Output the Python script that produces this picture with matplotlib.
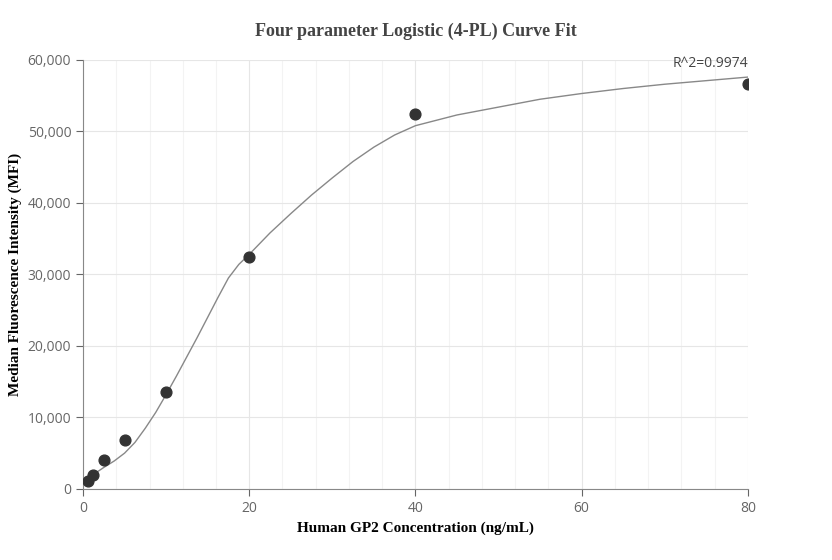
import matplotlib
matplotlib.use("Agg")
import matplotlib.pyplot as plt
from matplotlib.ticker import FuncFormatter, MultipleLocator

conc = [0.625, 1.25, 2.5, 5, 10, 20, 40, 80]
mfi = [1100, 2000, 4100, 6900, 13600, 32500, 52500, 56700]
curve_x = [0.6, 2.5, 3.75, 5, 6.25, 7.5, 8.75, 10, 11.25, 12.5, 13.75, 15, 16.25, 17.5, 18.75, 20,
           22.5, 25, 27.5, 30, 32.5, 35, 37.5, 40, 45, 50, 55, 60, 65, 70, 75, 80]
curve_y = [1500, 3000, 3900, 5000, 6500, 8500, 10700, 13200, 15800, 18500, 21200, 24000, 26800, 29500, 31400, 32800,
           35800, 38500, 41100, 43500, 45800, 47800, 49500, 50800, 52300, 53400, 54500, 55300, 56000, 56600, 57100, 57600]
r2_text = "R^2=0.9974"

fig = plt.figure(figsize=(8.32, 5.6), dpi=100)
ax = fig.add_axes([0.0998, 0.127, 0.799, 0.766])
ax.plot(curve_x, curve_y, color="#888888", lw=1)
ax.scatter(conc, mfi, s=60, color="#333333", zorder=3)
ax.set_xlim(0, 80)
ax.set_ylim(0, 60000)
ax.xaxis.set_major_locator(MultipleLocator(20))
ax.xaxis.set_minor_locator(MultipleLocator(4))
ax.yaxis.set_major_locator(MultipleLocator(10000))
ax.yaxis.set_major_formatter(FuncFormatter(lambda v, p: f"{int(v):,}"))
ax.grid(True, which="major", color="#e6e6e6", lw=0.8)
ax.grid(True, which="minor", axis="x", color="#f3f3f3", lw=0.8)
ax.set_axisbelow(True)
for s in ["top", "right"]:
    ax.spines[s].set_visible(False)
for s in ["left", "bottom"]:
    ax.spines[s].set_color("#888888")
ax.tick_params(which="both", colors="#666666", labelsize=10, length=5)
ax.tick_params(which="minor", length=0)
for lab in ax.get_xticklabels() + ax.get_yticklabels():
    lab.set_fontfamily("Open Sans")
ax.set_xlabel("Human GP2 Concentration (ng/mL)", fontfamily="Liberation Serif", fontweight="bold", fontsize=11)
ax.set_ylabel("Median Fluorescence Intensity (MFI)", fontfamily="Liberation Serif", fontweight="bold", fontsize=11)
fig.text(0.5, 0.935, "Four parameter Logistic (4-PL) Curve Fit", ha="center", fontfamily="Liberation Serif", fontweight="bold", fontsize=13, color="#444444")
ax.text(80, 58500, r2_text, ha="right", va="bottom", fontsize=10, color="#444444", fontfamily="Open Sans")
fig.savefig("out.png")
